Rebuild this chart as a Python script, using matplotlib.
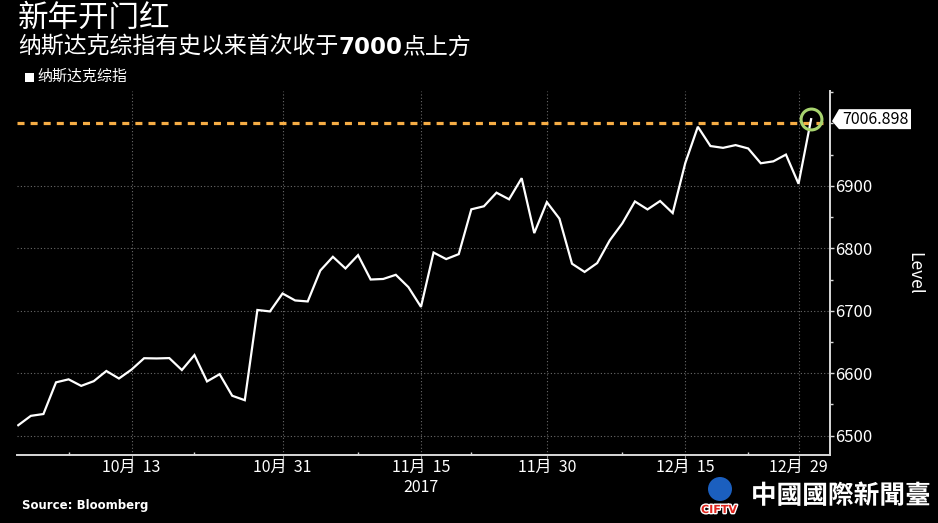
import numpy as np
import matplotlib
matplotlib.use("Agg")
import matplotlib.pyplot as plt
from matplotlib.patches import Polygon, Circle
from matplotlib.transforms import IdentityTransform
import matplotlib.patheffects as pe

plt.rcParams['font.family'] = ['Noto Sans CJK SC', 'DejaVu Sans']

# ---------------- data ----------------
dates = (
    ["10-%02d" % d for d in [2, 3, 4, 5, 6, 9, 10, 11, 12, 13, 16, 17, 18, 19, 20, 23, 24, 25, 26, 27, 30, 31]]
    + ["11-%02d" % d for d in [1, 2, 3, 6, 7, 8, 9, 10, 13, 14, 15, 16, 17, 20, 21, 22, 24, 27, 28, 29, 30]]
    + ["12-%02d" % d for d in [1, 4, 5, 6, 7, 8, 11, 12, 13, 14, 15, 18, 19, 20, 21, 22, 26, 27, 28, 29]]
    + ["01-02"]
)
values = [
    6516.72, 6531.71, 6534.63, 6585.36, 6590.18, 6579.73, 6587.25, 6603.55, 6591.51, 6605.80,
    6624.00, 6623.66, 6624.22, 6605.07, 6629.05, 6586.83, 6598.43, 6563.89, 6556.77, 6701.26,
    6698.96, 6727.67,
    6716.53, 6714.94, 6764.44, 6786.44, 6767.78, 6789.12, 6750.05, 6750.94, 6757.60, 6737.87,
    6706.21, 6793.29, 6782.79, 6790.71, 6862.48, 6867.36, 6889.16, 6878.52, 6912.36, 6824.39,
    6873.97,
    6847.59, 6775.37, 6762.21, 6776.38, 6812.84, 6840.08, 6875.08, 6862.32, 6875.80, 6856.53,
    6936.58, 6994.76, 6963.85, 6960.96, 6965.36, 6959.96, 6936.25, 6939.34, 6950.16, 6903.39,
    7006.898,
]
major_dates = ["10-13", "10-31", "11-15", "11-30", "12-15", "12-29"]
major_labels = ["10月  13", "10月  31", "11月  15", "11月  30", "12月  15", "12月  29"]
minor_dates = ["10-06", "10-20", "11-08", "11-21", "12-08", "12-22"]
year_label = "2017"
year_date = "11-15"
threshold = 7000
y_ticks = [6500, 6600, 6700, 6800, 6900]

title = "新年开门红"
sub_a, sub_b, sub_c = "纳斯达克综指有史以来首次收于", "7000", "点上方"
legend_label = "纳斯达克综指"
source = "Source: Bloomberg"
ylabel = "Level"

# ---------------- figure ----------------
W, H, DPI = 938, 523, 100
fig = plt.figure(figsize=(W / DPI, H / DPI), dpi=DPI, facecolor="black")
ax = fig.add_axes([17 / W, (H - 455) / H, (830 - 17) / W, (455 - 91) / H])
ax.set_facecolor("black")

x = np.arange(len(values))
ax.set_xlim(-0.1, 64.5)
ax.set_ylim(6469, 7052)

# grid
major_pos = [dates.index(d) for d in major_dates]
minor_pos = [dates.index(d) for d in minor_dates]
ax.set_xticks(major_pos)
ax.set_xticklabels(major_labels)
ax.set_xticks(minor_pos, minor=True)
ax.set_yticks(y_ticks)
ax.set_yticks(np.arange(6500, 7051, 50), minor=True)
ax.grid(True, which="major", color="#6a6a6a", lw=0.8, ls=(0, (1, 2)))

# series
ax.plot(x, values, color="white", lw=1.6, zorder=3, solid_joinstyle="miter")
ax.axhline(threshold, color="#f6ad45", lw=2.3, ls=(0, (2.2, 1.9)), zorder=2)
ax.plot(x[-1], values[-1], "o", ms=15, mfc="none", mec="#a8d46f", mew=2.2, zorder=4, clip_on=False)

# spines & ticks
for s in ["top", "left"]:
    ax.spines[s].set_visible(False)
for s in ["bottom", "right"]:
    ax.spines[s].set_color("#d8d8d8")
    ax.spines[s].set_linewidth(1.4)
ax.yaxis.tick_right()
ax.yaxis.set_label_position("right")
ax.tick_params(axis="y", which="major", direction="out", length=3, width=1, color="#d8d8d8",
               labelcolor="white", labelsize=12, pad=1)
ax.tick_params(axis="y", which="minor", direction="out", length=2.5, width=1, color="#d8d8d8")
ax.tick_params(axis="x", which="major", direction="out", length=8, width=0.8, color="#888888",
               labelcolor="white", labelsize=11.5, pad=-5.5)
ax.tick_params(axis="x", which="minor", direction="in", length=2.5, width=1, color="#d8d8d8")
ax.set_ylabel(ylabel, color="white", fontsize=12.5, rotation=270, labelpad=36)

ax.annotate(year_label, xy=(dates.index(year_date), 0), xycoords=("data", "axes fraction"),
            xytext=(0, -23.5), textcoords="offset points", ha="center", va="center",
            color="white", fontsize=11.5)

# value tag
fig.canvas.draw()
px, py = ax.transData.transform((x[-1], values[-1]))
axr = ax.transAxes.transform((1, 0))[0]
tip_x = axr + 2
bx0, bx1 = tip_x + 7, tip_x + 79
by0, by1 = py - 10, py + 10
tag = Polygon([[tip_x, py - 2], [bx0, by1], [bx1, by1], [bx1, by0], [bx0, by0]], closed=True,
              facecolor="white", edgecolor="none", transform=IdentityTransform(), zorder=10)
fig.add_artist(tag)
fig.text((bx0 + bx1) / 2 / W, py / H, f"{values[-1]:.3f}", color="black", fontsize=11.5,
         ha="center", va="center", zorder=11)

# titles
fig.text(18 / W, 1 - 18 / H, title, color="white", fontsize=22, ha="left", va="center")
r = fig.canvas.get_renderer()
t1 = fig.text(18 / W, 1 - 47 / H, sub_a, color="white", fontsize=16.5, ha="left", va="center",
              fontweight="medium")
e1 = t1.get_window_extent(r)
t2 = fig.text(e1.x1 / W, 1 - 47 / H, sub_b, color="white", fontsize=16.5, ha="left", va="center",
              fontweight="bold", family="DejaVu Sans")
e2 = t2.get_window_extent(r)
fig.text(e2.x1 / W, 1 - 47 / H, sub_c, color="white", fontsize=16.5, ha="left", va="center",
         fontweight="medium")

# legend
fig.patches.append(plt.Rectangle((25 / W, 1 - 82 / H), 9 / W, 9 / H, transform=fig.transFigure,
                                 facecolor="white", edgecolor="none"))
fig.text(37 / W, 1 - 77 / H, legend_label, color="white", fontsize=10.8, ha="left", va="center")

# source
fig.text(22 / W, 1 - 506 / H, source, color="white", fontsize=8.5, fontweight="bold",
         family="DejaVu Sans", ha="left", va="center")

# watermark
fig.patches.append(Circle((720, H - 489), 12, transform=IdentityTransform(), facecolor="#1b5fbf",
                          edgecolor="none"))
fig.text(719 / W, 1 - 510 / H, "CIFTV", color="#e0251d", fontsize=8, fontweight="bold",
         family="DejaVu Sans", ha="center", va="center",
         path_effects=[pe.withStroke(linewidth=2, foreground="white")])
fig.text(841 / W, 1 - 496 / H, "中國國際新聞臺", color="white", fontsize=18.5, fontweight="bold",
         family=["Noto Sans CJK TC", "DejaVu Sans"], ha="center", va="center",
         path_effects=[pe.withStroke(linewidth=2.5, foreground="black")])

fig.savefig("out.png", dpi=DPI, facecolor="black")
